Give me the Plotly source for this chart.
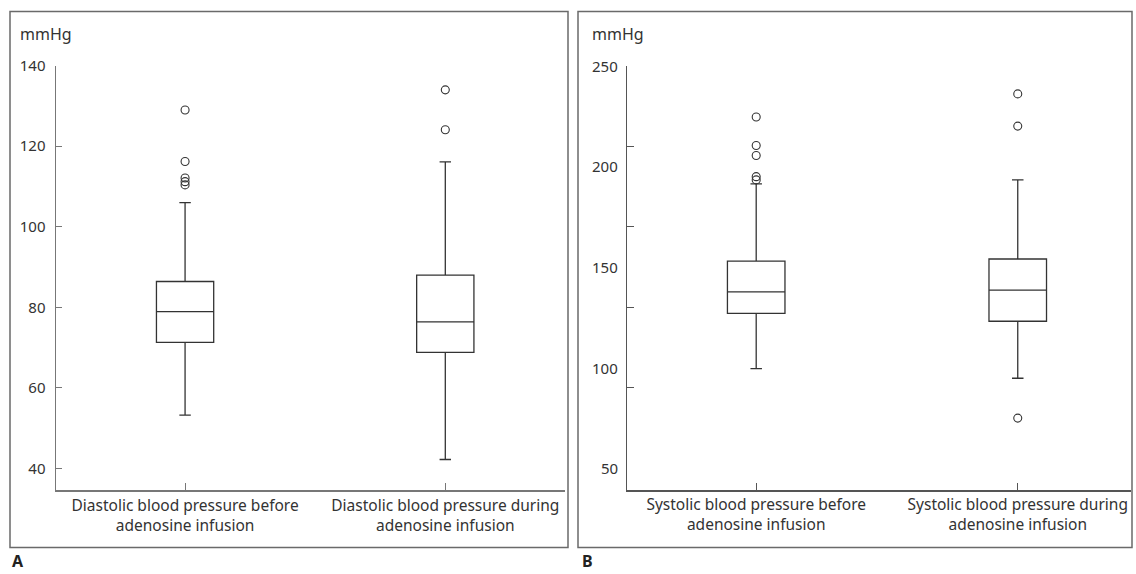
import plotly.graph_objects as go

W, H = 1136, 574

# ---------------- data ----------------
dbp_labels = ["Diastolic blood pressure before<br>adenosine infusion",
              "Diastolic blood pressure during<br>adenosine infusion"]
dbp_q1 = [71.3, 68.8]
dbp_median = [78.9, 76.4]
dbp_q3 = [86.4, 88.0]
dbp_lower = [53.2, 42.2]
dbp_upper = [106.0, 116.1]
dbp_outliers = [[129.0, 116.2, 112.1, 111.2, 110.4], [134.0, 124.1]]
dbp_ticks = [40, 60, 80, 100, 120, 140]

sbp_labels = ["Systolic blood pressure before<br>adenosine infusion",
              "Systolic blood pressure during<br>adenosine infusion"]
sbp_q1 = [127.0, 123.1]
sbp_median = [137.7, 138.6]
sbp_q3 = [153.0, 154.0]
sbp_lower = [99.6, 94.8]
sbp_upper = [191.3, 193.3]
sbp_outliers = [[224.5, 210.4, 205.4, 194.9, 193.3], [236.0, 220.0, 75.0]]
sbp_tick_marks = [250, 210, 170, 130, 90]
sbp_tick_labels = [250, 200, 150, 100, 50]

FONT = "Noto Sans"
TXT = "#333333"
BOXC = "#333333"

def px_x(p):
    return p / W

def px_y(p):
    # compensate for the observed vertical mapping of the capture
    q = (p - 11.4) / 0.979
    return 1 - q / H

fig = go.Figure()

positions = [0, 1]

def add_panel(q1, med, q3, lo, up, outl, xa, ya):
    fig.add_trace(go.Box(
        x=positions, q1=q1, median=med, q3=q3,
        lowerfence=lo, upperfence=up,
        width=0.22, whiskerwidth=0.2,
        fillcolor="white", line=dict(color=BOXC, width=1.3),
        boxpoints=False, showlegend=False, hoverinfo="skip",
        xaxis=xa, yaxis=ya))
    ox, oy = [], []
    for p, vals in zip(positions, outl):
        for v in vals:
            ox.append(p)
            oy.append(v)
    fig.add_trace(go.Scatter(
        x=ox, y=oy, mode="markers",
        marker=dict(symbol="circle-open", size=8, color=BOXC,
                    line=dict(width=1.1, color=BOXC)),
        showlegend=False, hoverinfo="skip",
        xaxis=xa, yaxis=ya))

add_panel(dbp_q1, dbp_median, dbp_q3, dbp_lower, dbp_upper, dbp_outliers, "x", "y")
add_panel(sbp_q1, sbp_median, sbp_q3, sbp_lower, sbp_upper, sbp_outliers, "x2", "y2")

ydom = [px_y(490), px_y(66)]
tickfont = dict(family=FONT, size=15, color=TXT)
catfont = dict(family=FONT, size=15.5, color=TXT)

fig.update_layout(
    width=W, height=H, autosize=False,
    margin=dict(l=0, r=0, t=0, b=0),
    paper_bgcolor="white", plot_bgcolor="white",
    font=dict(family=FONT, size=15, color=TXT),
    xaxis=dict(domain=[px_x(56), px_x(565)], range=[-0.496, 1.46],
               tickvals=positions, ticktext=dbp_labels,
               ticks="inside", ticklen=7, tickcolor="#777",
               showline=True, linecolor="#777", linewidth=1.5,
               showgrid=False, zeroline=False, tickfont=catfont,
               fixedrange=True),
    yaxis=dict(domain=ydom, range=[34.5, 140], anchor="x",
               tickvals=dbp_ticks,
               ticks="inside", ticklen=6, tickcolor="#777",
               showline=True, linecolor="#777", linewidth=1.5,
               showgrid=False, zeroline=False, tickfont=tickfont,
               ticklabelstandoff=6, fixedrange=True),
    xaxis2=dict(domain=[px_x(627), px_x(1131)], range=[-0.494, 1.433],
                anchor="y2",
                tickvals=positions, ticktext=sbp_labels,
                ticks="inside", ticklen=7, tickcolor="#555",
                showline=True, linecolor="#555", linewidth=1.2,
                showgrid=False, zeroline=False, tickfont=catfont,
                fixedrange=True),
    yaxis2=dict(domain=ydom, range=[39.05, 250], anchor="x2",
                tickvals=sbp_tick_marks, showticklabels=False,
                ticks="inside", ticklen=7, tickcolor="#555",
                showline=True, linecolor="#555", linewidth=1.2,
                showgrid=False, zeroline=False, fixedrange=True),
)

annotations = []
for v in sbp_tick_labels:
    annotations.append(dict(xref="x2 domain", yref="y2", x=0, y=v,
                            text=str(v), showarrow=False, xanchor="right",
                            yanchor="middle", xshift=-7,
                            font=dict(family=FONT, size=15, color=TXT)))
for xp in (18, 590):
    annotations.append(dict(xref="paper", yref="paper", x=px_x(xp), y=px_y(34),
                            text="mmHg", showarrow=False, xanchor="left",
                            yanchor="middle",
                            font=dict(family=FONT, size=16, color=TXT)))
for xp, letter in ((10, "A"), (580, "B")):
    annotations.append(dict(xref="paper", yref="paper", x=px_x(xp), y=px_y(560),
                            text="<b>%s</b>" % letter, showarrow=False,
                            xanchor="left", yanchor="middle",
                            font=dict(family=FONT, size=16, color="#222")))
fig.update_layout(annotations=annotations)

shapes = []
for x0, x1 in ((10, 568), (578, 1132)):
    shapes.append(dict(type="rect", xref="paper", yref="paper",
                       x0=px_x(x0), x1=px_x(x1), y0=px_y(547), y1=px_y(12),
                       line=dict(color="#6a6a6a", width=1.5),
                       fillcolor="rgba(0,0,0,0)", layer="below"))
fig.update_layout(shapes=shapes)

fig.write_html(
    "out.html",
    config={"displayModeBar": False, "staticPlot": True},
    post_script=(
        "document.documentElement.style.margin='0';"
        "document.body.style.margin='0';"
        "document.body.style.padding='0';"
        "document.body.style.overflow='hidden';"
        "var gd=document.getElementById('{plot_id}');"
        "gd.style.position='fixed';gd.style.top='0px';gd.style.left='0px';"
    ),
)
